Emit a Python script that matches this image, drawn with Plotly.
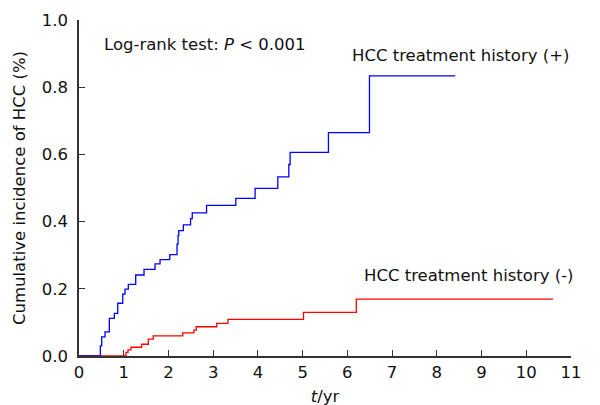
import plotly.graph_objects as go

# Blue: HCC treatment history (+), step times (yr) and cumulative incidence
blue_t = [0.0, 0.477, 0.508, 0.582, 0.678, 0.790, 0.866, 0.978, 1.029, 1.103, 1.268,
          1.454, 1.700, 1.812, 2.029, 2.192, 2.215, 2.230, 2.333, 2.494, 2.532, 2.852,
          3.506, 3.937, 4.445, 4.691, 4.720, 5.577, 6.494, 8.412]
blue_y = [0.0, 0.030, 0.057, 0.072, 0.112, 0.127, 0.157, 0.184, 0.199, 0.213, 0.241,
          0.258, 0.274, 0.287, 0.302, 0.333, 0.358, 0.373, 0.390, 0.409, 0.426, 0.448,
          0.469, 0.499, 0.533, 0.570, 0.606, 0.665, 0.834, 0.834]

# Red: HCC treatment history (-)
red_t = [0.0, 1.05, 1.096, 1.163, 1.40, 1.55, 1.66, 2.32, 2.57, 2.62, 3.08, 3.33,
         5.02, 6.20, 10.60]
red_y = [0.0, 0.011, 0.018, 0.026, 0.035, 0.050, 0.060, 0.069, 0.077, 0.087, 0.097,
         0.109, 0.130, 0.169, 0.169]

x_ticks = list(range(0, 12))
y_ticks = [0.0, 0.2, 0.4, 0.6, 0.8, 1.0]
y_tick_labels = ["0.0", "0.2", "0.4", "0.6", "0.8", "1.0"]

FONT = "DejaVu Sans"
FS = 16.5

fig = go.Figure()
fig.add_trace(go.Scatter(x=red_t, y=red_y, mode="lines", line=dict(color="#ff0000", width=1.3, shape="hv"),
                         showlegend=False, hoverinfo="skip", cliponaxis=False))
fig.add_trace(go.Scatter(x=blue_t, y=blue_y, mode="lines", line=dict(color="#0000ff", width=1.3, shape="hv"),
                         showlegend=False, hoverinfo="skip", cliponaxis=False))

fig.update_layout(
    width=600, height=405,
    margin=dict(l=71, r=37, t=12, b=57),
    plot_bgcolor="white", paper_bgcolor="white",
    font=dict(family=FONT, size=FS, color="#111111"),
    xaxis=dict(range=[0, 11], tickvals=x_ticks, ticks="inside", ticklen=6, tickcolor="#333",
               showline=True, linecolor="#333", linewidth=1.5, showgrid=False, zeroline=False,
               automargin=False, tickfont=dict(size=FS),
               title=dict(text="<i>t</i>/yr", font=dict(size=FS), standoff=10)),
    yaxis=dict(range=[0, 1.0], tickvals=y_ticks, ticktext=y_tick_labels, ticks="inside", ticklen=6,
               tickcolor="#333", showline=True, linecolor="#333", linewidth=1.5, showgrid=False,
               zeroline=False, automargin=False, tickfont=dict(size=FS), ticklabelstandoff=6,
               title=dict(text="Cumulative incidence of HCC (%)", font=dict(size=FS), standoff=12)),
    annotations=[
        dict(x=0.51, y=0.926, xref="x", yref="y", text="Log-rank test: <i>P</i> < 0.001",
             showarrow=False, xanchor="left", yanchor="middle", font=dict(size=FS)),
        dict(x=6.06, y=0.893, xref="x", yref="y", text="HCC treatment history (+)",
             showarrow=False, xanchor="left", yanchor="middle", font=dict(size=FS)),
        dict(x=6.33, y=0.241, xref="x", yref="y", text="HCC treatment history (-)",
             showarrow=False, xanchor="left", yanchor="middle", font=dict(size=FS)),
    ],
)

fig.write_html("out.html")
